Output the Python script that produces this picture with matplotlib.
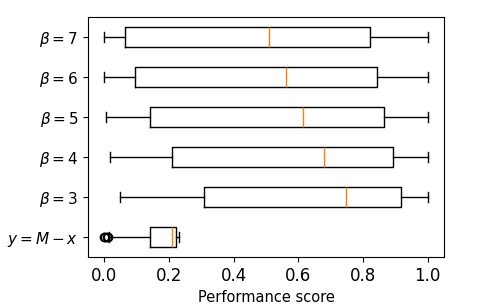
import matplotlib
matplotlib.use("Agg")
import matplotlib.pyplot as plt

labels = [r'$y=M-x$', r'$\beta=3$', r'$\beta=4$', r'$\beta=5$', r'$\beta=6$', r'$\beta=7$']
whislo = [0.015, 0.049, 0.018, 0.005, 0.0, 0.0]
q1 = [0.141, 0.307, 0.209, 0.141, 0.094, 0.064]
med = [0.208, 0.747, 0.679, 0.615, 0.561, 0.508]
q3 = [0.223, 0.918, 0.892, 0.866, 0.844, 0.820]
whishi = [0.230, 1.0, 1.0, 1.0, 1.0, 1.0]
fliers = [[0.0, 0.004, 0.008, 0.011], [], [], [], [], []]

stats = []
for i in range(len(labels)):
    stats.append(dict(label=labels[i], whislo=whislo[i], q1=q1[i], med=med[i],
                      q3=q3[i], whishi=whishi[i], fliers=fliers[i]))

fig = plt.figure(figsize=(4.81, 3.05), dpi=100)
ax = fig.add_axes([0.183, 0.157, 0.740, 0.787])
ax.bxp(stats, orientation='horizontal')
ax.tick_params(axis='x', labelsize=12)
ax.tick_params(axis='y', labelsize=11)
ax.set_xlabel('Performance score', fontsize=10.5)
fig.savefig('out.png', dpi=100)
